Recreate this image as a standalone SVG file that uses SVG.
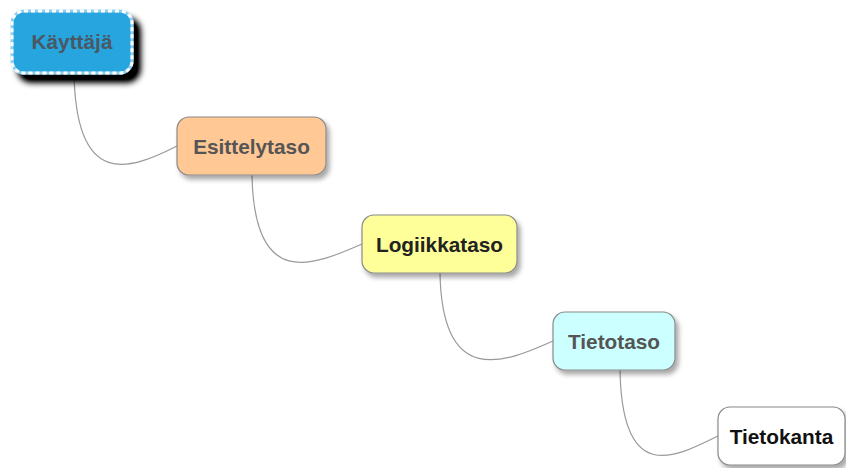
<svg xmlns="http://www.w3.org/2000/svg" width="846" height="468" viewBox="0 0 846 468">
<defs>
<filter id="sh" x="-20%" y="-20%" width="150%" height="160%">
<feGaussianBlur in="SourceAlpha" stdDeviation="2.5"/>
<feOffset dx="3" dy="4" result="b"/>
<feComponentTransfer><feFuncA type="linear" slope="0.35"/></feComponentTransfer>
<feMerge><feMergeNode/><feMergeNode in="SourceGraphic"/></feMerge>
</filter>
<filter id="shk" x="-20%" y="-20%" width="160%" height="170%">
<feGaussianBlur in="SourceAlpha" stdDeviation="3"/>
<feOffset dx="7" dy="8" result="b"/>
<feComponentTransfer><feFuncA type="linear" slope="1.2"/></feComponentTransfer>
<feMerge><feMergeNode/><feMergeNode in="SourceGraphic"/></feMerge>
</filter>
</defs>
<style>
.n{stroke:#8a8a8a;stroke-width:1.2}
.t{font-family:"Liberation Sans",Arial,sans-serif;font-size:20.8px;font-weight:bold;text-anchor:middle}
.c{fill:none;stroke:#9a9a9a;stroke-width:1.2}
</style>
<rect width="846" height="468" fill="#ffffff"/>
<g id="connectors">
<path class="c" d="M74,73 C76,190 130,170 177,146"/>
<path class="c" d="M252,175 C254,290 312,266 362,244"/>
<path class="c" d="M440,273 C442,388 504,363 553,341"/>
<path class="c" d="M620,370 C622,485 674,458 718,436"/>
</g>
<g id="kayttaja">
<rect x="12" y="11" width="120" height="62" rx="12" fill="#28a5de" stroke="#8fd0f0" stroke-width="3" filter="url(#shk)"/>
<rect x="12" y="11" width="120" height="62" rx="12" fill="none" stroke="#ffffff" stroke-width="3" stroke-dasharray="4 3"/>
<text class="t" x="72" y="49" fill="#4b5864">Käyttäjä</text>
</g>
<g id="esittelytaso">
<rect class="n" x="177" y="117" width="149" height="58" rx="12" fill="#ffc894" filter="url(#sh)"/>
<text class="t" x="251.5" y="153.5" fill="#555555">Esittelytaso</text>
</g>
<g id="logiikkataso">
<rect class="n" x="362" y="215" width="155" height="58" rx="12" fill="#ffff99" filter="url(#sh)"/>
<text class="t" x="439.5" y="251.5" fill="#222222">Logiikkataso</text>
</g>
<g id="tietotaso">
<rect class="n" x="553" y="312" width="122" height="58" rx="12" fill="#ccffff" filter="url(#sh)"/>
<text class="t" x="614" y="348.5" fill="#555555">Tietotaso</text>
</g>
<g id="tietokanta">
<rect class="n" x="718" y="407" width="127" height="58" rx="12" fill="#ffffff" filter="url(#sh)"/>
<text class="t" x="781.5" y="443.5" fill="#111111">Tietokanta</text>
</g>
</svg>
